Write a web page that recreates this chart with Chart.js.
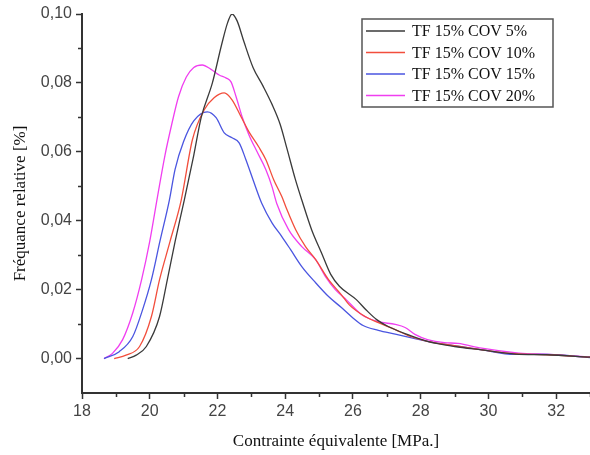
<!DOCTYPE html>
<html lang="fr">
<head>
    <meta charset="UTF-8">
    <title>Fréquence relative - contrainte équivalente</title>
    <script src="https://cdn.jsdelivr.net/npm/chart.js@4.4.1/dist/chart.umd.min.js"></script>
    <style>
        body { margin: 0; background: #fff; }
        #wrap { width: 590px; height: 455px; }
    </style>
</head>
<body>
    <div id="wrap"><canvas id="chart" width="590" height="455"></canvas></div>

    <script>
        // Données (contrainte en MPa, fréquence relative)
        const labels = ['TF 15% COV 5%', 'TF 15% COV 10%', 'TF 15% COV 15%', 'TF 15% COV 20%'];

        const cov5X = [19.35, 19.6, 19.9, 20.29, 20.52, 20.75, 21.02, 21.3, 21.52, 21.85, 22.12, 22.3, 22.43, 22.58, 22.78, 23.05, 23.35, 23.6, 23.85, 24.05, 24.3, 24.49, 24.78, 25.07, 25.34, 25.6, 26.1, 26.4, 26.7, 27.04, 27.6, 28.2, 29.0, 29.8, 30.8, 31.7, 33];
        const cov5Y = [0, 0.001, 0.0035, 0.0122, 0.0229, 0.034, 0.046, 0.059, 0.070, 0.080, 0.091, 0.0975, 0.100, 0.098, 0.092, 0.0845, 0.079, 0.074, 0.068, 0.061, 0.052, 0.046, 0.0374, 0.0307, 0.0245, 0.021, 0.0171, 0.014, 0.0113, 0.0093, 0.007, 0.005, 0.0035, 0.0025, 0.0013, 0.0011, 0.0004];

        const cov10X = [18.95, 19.3, 19.7, 20.05, 20.29, 20.6, 20.93, 21.26, 21.61, 21.9, 22.2, 22.43, 22.7, 22.93, 23.22, 23.43, 23.66, 23.9, 24.02, 24.31, 24.6, 24.9, 25.28, 25.66, 25.9, 26.36, 26.75, 27.25, 27.7, 28.2, 28.8, 29.77, 30.77, 31.74, 33];
        const cov10Y = [0, 0.001, 0.0035, 0.0122, 0.0229, 0.034, 0.046, 0.0635, 0.0722, 0.0757, 0.0771, 0.0751, 0.0701, 0.0658, 0.0614, 0.0577, 0.0519, 0.047, 0.044, 0.0374, 0.0325, 0.0287, 0.0229, 0.0185, 0.0155, 0.0122, 0.0104, 0.0084, 0.0064, 0.005, 0.004, 0.0026, 0.0014, 0.0011, 0.0004];

        const cov15X = [18.65, 19.1, 19.5, 19.79, 20.05, 20.3, 20.58, 20.75, 21.0, 21.3, 21.7, 21.96, 22.2, 22.43, 22.64, 22.84, 23.05, 23.31, 23.61, 23.9, 24.16, 24.49, 24.9, 25.28, 25.66, 26.0, 26.3, 26.75, 27.25, 27.7, 28.2, 28.8, 29.77, 30.77, 31.74, 33];
        const cov15Y = [0, 0.002, 0.0064, 0.0142, 0.0229, 0.034, 0.046, 0.055, 0.063, 0.069, 0.0716, 0.0699, 0.0655, 0.0641, 0.0626, 0.0577, 0.0519, 0.045, 0.0394, 0.0354, 0.0316, 0.0267, 0.022, 0.018, 0.0148, 0.0118, 0.0096, 0.0082, 0.0071, 0.0061, 0.005, 0.004, 0.0026, 0.0012, 0.0012, 0.0003];

        const cov20X = [18.65, 18.9, 19.2, 19.5, 19.76, 20.0, 20.23, 20.45, 20.65, 20.85, 21.08, 21.3, 21.55, 21.8, 22.05, 22.26, 22.4, 22.55, 22.73, 22.93, 23.17, 23.43, 23.61, 23.75, 24.1, 24.49, 24.9, 25.19, 25.48, 25.8, 26.25, 26.75, 27.25, 27.54, 27.83, 28.2, 28.7, 29.1, 29.8, 30.9, 31.8, 33];
        const cov20Y = [0, 0.0015, 0.0055, 0.0133, 0.0229, 0.034, 0.047, 0.059, 0.068, 0.076, 0.0817, 0.0845, 0.0852, 0.084, 0.0823, 0.0814, 0.0803, 0.076, 0.0701, 0.0649, 0.060, 0.0548, 0.0499, 0.045, 0.0374, 0.0325, 0.0287, 0.0238, 0.020, 0.0171, 0.0128, 0.0107, 0.0099, 0.009, 0.007, 0.0055, 0.0046, 0.0044, 0.003, 0.0016, 0.0012, 0.0004];

        const xTickValues = [18, 20, 22, 24, 26, 28, 30, 32];
        const xMinorValues = [19, 21, 23, 25, 27, 29, 31, 33];
        const yTickValues = [0, 0.02, 0.04, 0.06, 0.08, 0.10];
        const yMinorValues = [0.01, 0.03, 0.05, 0.07, 0.09];

        const colors = ['#3a3a3a', '#f24e3c', '#4a55e0', '#f03ef0'];

        function toPoints(xs, ys) {
            return xs.map((x, i) => ({ x: x, y: ys[i] }));
        }

        const series = [
            toPoints(cov5X, cov5Y),
            toPoints(cov10X, cov10Y),
            toPoints(cov15X, cov15Y),
            toPoints(cov20X, cov20Y)
        ];

        const axisColor = '#333';
        const tickFont = { family: 'Liberation Sans, Arial, sans-serif', size: 16 };
        const titleFont = { family: 'Liberation Serif, Times New Roman, serif', size: 17 };

        // petites graduations intermédiaires (plus courtes que les principales)
        const minorTicks = {
            id: 'minorTicks',
            afterDraw(chart) {
                const { ctx, scales: { x, y }, chartArea } = chart;
                ctx.save();
                ctx.strokeStyle = axisColor;
                ctx.lineWidth = 1.5;
                ctx.beginPath();
                xMinorValues.forEach(v => {
                    const px = Math.round(x.getPixelForValue(v)) + 0.5;
                    ctx.moveTo(px, chartArea.bottom);
                    ctx.lineTo(px, chartArea.bottom + 4);
                });
                yMinorValues.forEach(v => {
                    const py = Math.round(y.getPixelForValue(v)) + 0.5;
                    ctx.moveTo(chartArea.left, py);
                    ctx.lineTo(chartArea.left - 4, py);
                });
                ctx.stroke();
                ctx.restore();
            }
        };

        // légende encadrée dans la zone du graphique
        const boxLegend = {
            id: 'boxLegend',
            afterDraw(chart) {
                const { ctx, chartArea } = chart;
                const left = chartArea.left + 280;
                const top = chartArea.top + 5;
                const w = 191, h = 88, row = 21.5;
                ctx.save();
                ctx.fillStyle = '#fff';
                ctx.fillRect(left, top, w, h);
                ctx.strokeStyle = '#555';
                ctx.lineWidth = 1.5;
                ctx.strokeRect(left, top, w, h);
                ctx.font = '16px "Liberation Serif", "Times New Roman", serif';
                ctx.textBaseline = 'middle';
                chart.data.datasets.forEach((ds, i) => {
                    const cy = top + 12 + i * row;
                    ctx.strokeStyle = ds.borderColor;
                    ctx.lineWidth = 1.5;
                    ctx.beginPath();
                    ctx.moveTo(left + 4, cy);
                    ctx.lineTo(left + 43, cy);
                    ctx.stroke();
                    ctx.fillStyle = '#111';
                    ctx.fillText(ds.label, left + 50, cy + 1);
                });
                ctx.restore();
            }
        };

        new Chart(document.getElementById('chart'), {
            type: 'line',
            data: {
                datasets: series.map((pts, i) => ({
                    label: labels[i],
                    data: pts,
                    borderColor: colors[i],
                    borderWidth: 1.3,
                    pointRadius: 0,
                    fill: false,
                    cubicInterpolationMode: 'monotone'
                }))
            },
            options: {
                responsive: false,
                animation: false,
                devicePixelRatio: 1,
                layout: { padding: { top: 14, right: 0, left: 0, bottom: 0 } },
                plugins: {
                    legend: { display: false },
                    tooltip: { enabled: false }
                },
                scales: {
                    x: {
                        type: 'linear',
                        min: 18,
                        max: 33,
                        afterBuildTicks: scale => {
                            scale.ticks = xTickValues.map(v => ({ value: v }));
                        },
                        afterFit: scale => { scale.height = 62; },
                        ticks: {
                            color: '#444',
                            font: tickFont,
                            padding: 3,
                            callback: v => String(v)
                        },
                        grid: {
                            drawOnChartArea: false,
                            drawTicks: true,
                            tickLength: 6,
                            tickColor: axisColor,
                            tickWidth: 1.5
                        },
                        border: { display: true, color: axisColor, width: 2 },
                        title: {
                            display: true,
                            text: 'Contrainte équivalente [MPa.]',
                            color: '#111',
                            font: titleFont,
                            padding: { top: 4, bottom: 3 }
                        }
                    },
                    y: {
                        type: 'linear',
                        min: -0.01,
                        max: 0.10,
                        afterBuildTicks: scale => {
                            scale.ticks = yTickValues.map(v => ({ value: v }));
                        },
                        afterFit: scale => { scale.width = 82; },
                        ticks: {
                            color: '#444',
                            font: tickFont,
                            padding: 4,
                            callback: v => v.toFixed(2).replace('.', ',')
                        },
                        grid: {
                            drawOnChartArea: false,
                            drawTicks: true,
                            tickLength: 6,
                            tickColor: axisColor,
                            tickWidth: 1.5
                        },
                        border: { display: true, color: axisColor, width: 2 },
                        title: {
                            display: true,
                            text: 'Fréquance relative [%]',
                            color: '#111',
                            font: titleFont,
                            padding: { top: 10, bottom: 0 }
                        }
                    }
                }
            },
            plugins: [minorTicks, boxLegend]
        });
    </script>
</body>
</html>
